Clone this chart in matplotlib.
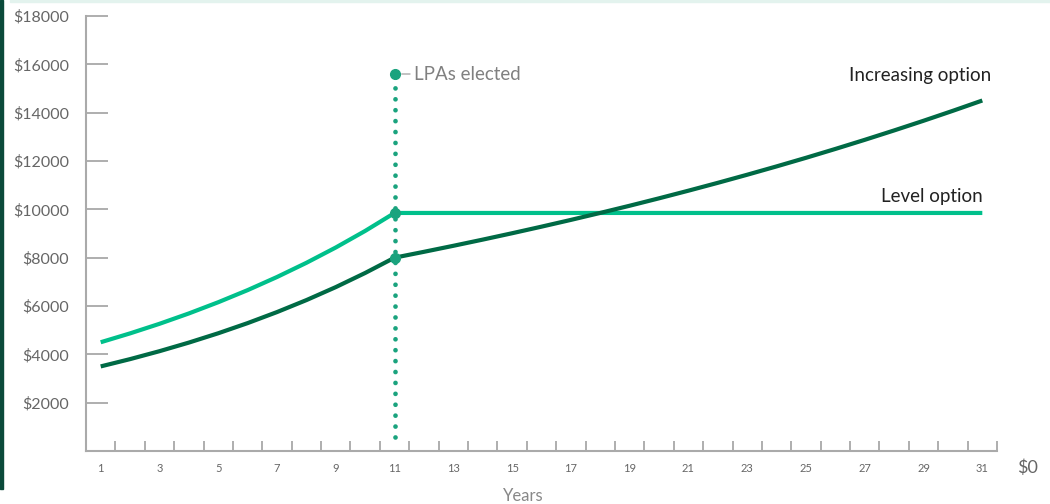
import matplotlib
matplotlib.use("Agg")
import matplotlib.pyplot as plt
from matplotlib.patches import Rectangle

plt.rcParams['font.family'] = ['Lato', 'DejaVu Sans']

years = list(range(1, 32))
level_option = [4500, 4867, 5263, 5692, 6156, 6657, 7200, 7787, 8421, 9107, 9850,
                9850, 9850, 9850, 9850, 9850, 9850, 9850, 9850, 9850, 9850,
                9850, 9850, 9850, 9850, 9850, 9850, 9850, 9850, 9850, 9850]
increasing_option = [3500, 3802, 4130, 4486, 4872, 5292, 5749, 6244, 6782, 7367, 8000,
                     8242, 8491, 8747, 9011, 9283, 9563, 9852, 10149, 10456, 10772,
                     11097, 11432, 11777, 12132, 12499, 12876, 13265, 13665, 14078, 14503]
elect_year = 11
elect_top = 15600
elect_bottom = 580
y_ticks = [2000, 4000, 6000, 8000, 10000, 12000, 14000, 16000, 18000]
y_labels = ['$2000', '$4000', '$6000', '$8000', '$10000', '$12000', '$14000', '$16000', '$18000']
x_label_years = list(range(1, 32, 2))

DARK = '#006A45'
LIGHT = '#00C08B'
DOT = '#1AA37E'
GRAY = '#666666'
AXGRAY = '#AAAAAA'

fig = plt.figure(figsize=(10.5, 5.04), dpi=100)
ax = fig.add_axes([86/1050, 1-451/504, (997-86)/1050, (451-16)/504])

ax.plot(years, level_option, color=LIGHT, lw=3.0, solid_capstyle='butt', zorder=3)
ax.plot(years, increasing_option, color=DARK, lw=3.0, solid_capstyle='butt', zorder=3)

ax.plot([elect_year, elect_year], [elect_bottom, elect_top], color=DOT, lw=3.4,
        linestyle=(0, (0.01, 2.3)), dash_capstyle='round', zorder=4)
idx = years.index(elect_year)
ax.plot([elect_year]*3, [elect_top, level_option[idx], increasing_option[idx]],
        'o', color=DOT, ms=7, zorder=5)

ax.annotate('LPAs elected', xy=(elect_year, elect_top), xytext=(14, 0),
            textcoords='offset points', va='center', ha='left', fontsize=13.5,
            color='#808080', zorder=5)
ax.annotate('', xy=(elect_year + 0.15, elect_top), xytext=(elect_year + 0.62, elect_top),
            arrowprops=dict(arrowstyle='-', color='#AAAAAA', lw=1.0))

ax.text(31.3, increasing_option[-1] + 1050, 'Increasing option', ha='right', va='center',
        fontsize=13.5, color='#222222')
ax.text(31.0, level_option[-1] + 680, 'Level option', ha='right', va='center',
        fontsize=13.5, color='#222222')

ax.set_xlim(0.5, 31.5)
ax.set_ylim(0, 18000)

for s in ['top', 'right']:
    ax.spines[s].set_visible(False)
for s in ['left', 'bottom']:
    ax.spines[s].set_color(AXGRAY)
    ax.spines[s].set_linewidth(1.5)

ax.set_yticks(y_ticks)
ax.set_yticklabels(y_labels, fontsize=11.5, color=GRAY)
ax.tick_params(axis='y', direction='in', length=16, width=1.1, color='#999999', pad=12)

ax.set_xticks(x_label_years)
ax.set_xticklabels([str(v) for v in x_label_years], fontsize=8, color=GRAY)
ax.tick_params(axis='x', which='major', length=0, pad=9)
ax.set_xticks([y + 0.5 for y in range(1, 32)], minor=True)
ax.tick_params(axis='x', which='minor', direction='in', length=7, width=1.1, color='#999999')

fig.text(1017/1050, 1-468/504, '$0', fontsize=13, color=GRAY, ha='left', va='center')
fig.text(523/1050, 1-496/504, 'Years', fontsize=12, color='#888888', ha='center', va='center')

fig.patches.append(Rectangle((0, 1-489/504), 3/1050, 489/504, transform=fig.transFigure,
                             color='#0B4A3A', zorder=0))
fig.patches.append(Rectangle((10/1050, 1-2/504), 1, 2/504, transform=fig.transFigure,
                             color='#E3F3EE', zorder=0))

fig.savefig('out.png', dpi=100)
